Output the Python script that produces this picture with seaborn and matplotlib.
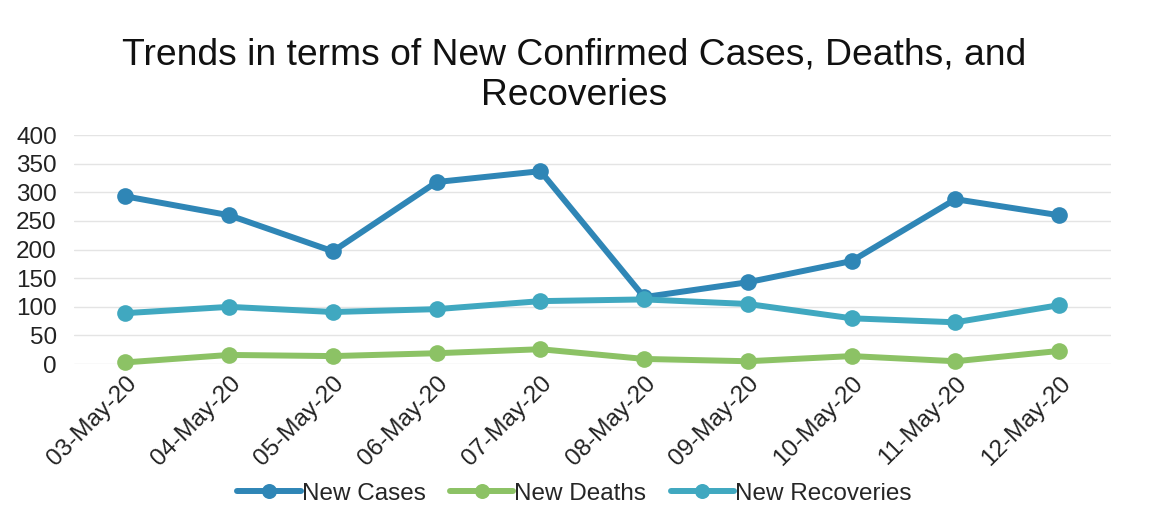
import pandas as pd
import matplotlib.pyplot as plt
import seaborn as sns

dates = ["03-May-20", "04-May-20", "05-May-20", "06-May-20", "07-May-20",
         "08-May-20", "09-May-20", "10-May-20", "11-May-20", "12-May-20"]
new_cases = [293, 260, 197, 318, 337, 117, 143, 180, 288, 260]
new_deaths = [3, 16, 14, 19, 26, 9, 5, 14, 5, 23]
new_recoveries = [89, 100, 91, 96, 110, 113, 105, 80, 73, 103]

COLORS = {
    "New Cases": "#2F86B6",
    "New Deaths": "#8CC265",
    "New Recoveries": "#40A8C0",
}

df = pd.DataFrame({
    "Date": dates,
    "New Cases": new_cases,
    "New Deaths": new_deaths,
    "New Recoveries": new_recoveries,
})
long_df = df.melt(id_vars="Date", var_name="Series", value_name="Count")

sns.set_style("white")
plt.rcParams["font.family"] = ["Liberation Sans", "DejaVu Sans"]

fig = plt.figure(figsize=(11.49, 5.05), dpi=100)
ax = fig.add_axes([0.064, 0.279, 0.903, 0.4535])

sns.lineplot(
    data=long_df,
    x="Date",
    y="Count",
    hue="Series",
    palette=COLORS,
    marker="o",
    markersize=12,
    linewidth=4.3,
    markeredgewidth=0,
    sort=False,
    ax=ax,
)
for line in ax.lines:
    line.set_clip_on(False)

ax.set_xlim(-0.5, len(dates) - 0.5)
ax.set_ylim(0, 400)
ax.set_yticks(range(0, 401, 50))
ax.grid(axis="y", color="#E4E4E4", linewidth=1)
ax.set_axisbelow(True)
for side in ["top", "right", "left", "bottom"]:
    ax.spines[side].set_visible(False)

ax.set_xlabel("")
ax.set_ylabel("")
ax.tick_params(axis="both", length=0, labelsize=17.5, colors="#222222")
ax.tick_params(axis="y", pad=12)
ax.tick_params(axis="x", pad=6)
plt.setp(ax.get_xticklabels(), rotation=45, ha="right", rotation_mode="anchor")

fig.text(0.5, 0.925, "Trends in terms of New Confirmed Cases, Deaths, and\nRecoveries",
         fontsize=26.8, ha="center", va="top", color="#111111", linespacing=1.2)

handles, labels = ax.get_legend_handles_labels()
ax.get_legend().remove()
fig.legend(handles, labels, loc="center", bbox_to_anchor=(0.5, 0.022),
           ncol=3, frameon=False, fontsize=17.5, handlelength=2.6,
           handletextpad=0.05, columnspacing=1.0, borderpad=0, markerscale=0.9)

plt.savefig("out.png", dpi=100)
plt.close()
